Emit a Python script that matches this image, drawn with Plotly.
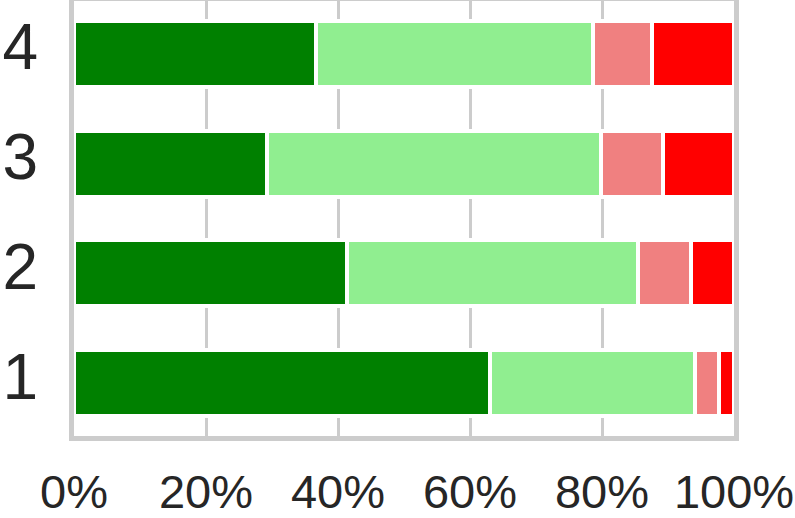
import plotly.graph_objects as go

categories = ["1", "2", "3", "4"]
seg_dark_green = [63.0, 41.4, 29.3, 36.7]
seg_light_green = [31.1, 44.1, 50.5, 41.9]
seg_light_coral = [3.7, 8.0, 9.5, 9.0]
seg_red = [2.2, 6.5, 10.7, 12.4]
x_ticks = [0, 20, 40, 60, 80, 100]
x_tick_labels = ["0%", "20%", "40%", "60%", "80%", "100%"]

series = [
    ("dark green", seg_dark_green, "#008000"),
    ("light green", seg_light_green, "#90EE90"),
    ("light coral", seg_light_coral, "#F08080"),
    ("red", seg_red, "#FF0000"),
]

fig = go.Figure()
for name, vals, color in series:
    fig.add_trace(go.Bar(
        y=[int(c) for c in categories], x=vals, name=name, orientation="h",
        width=0.6, marker=dict(color=color, line=dict(color="white", width=4)),
    ))

fig.update_layout(
    barmode="stack",
    width=795, height=518,
    showlegend=False,
    paper_bgcolor="white", plot_bgcolor="white",
    margin=dict(l=74, r=61, t=1, b=82),
    font=dict(family="Liberation Sans, Arial, sans-serif", color="#262626"),
    xaxis=dict(
        range=[0, 100], tickvals=x_ticks, ticktext=x_tick_labels,
        showgrid=True, gridcolor="#cccccc", gridwidth=3,
        showline=True, linecolor="#cccccc", linewidth=5, mirror=True,
        zeroline=False, ticks="", tickfont=dict(size=47),
        ticklabelstandoff=11, automargin=False,
    ),
    yaxis=dict(
        range=[0.52, 4.48], tickvals=[1, 2, 3, 4], ticktext=categories,
        showgrid=False,
        showline=True, linecolor="#cccccc", linewidth=5, mirror=True,
        zeroline=False, ticks="", tickfont=dict(size=64),
        ticklabelstandoff=18, ticklabelshift=-7, automargin=False,
    ),
)

# drop the default 8px body margin so the figure sits flush with the window
fig.write_html(
    "out.html",
    config={"displayModeBar": False},
    post_script="document.body.style.margin='0';",
)
